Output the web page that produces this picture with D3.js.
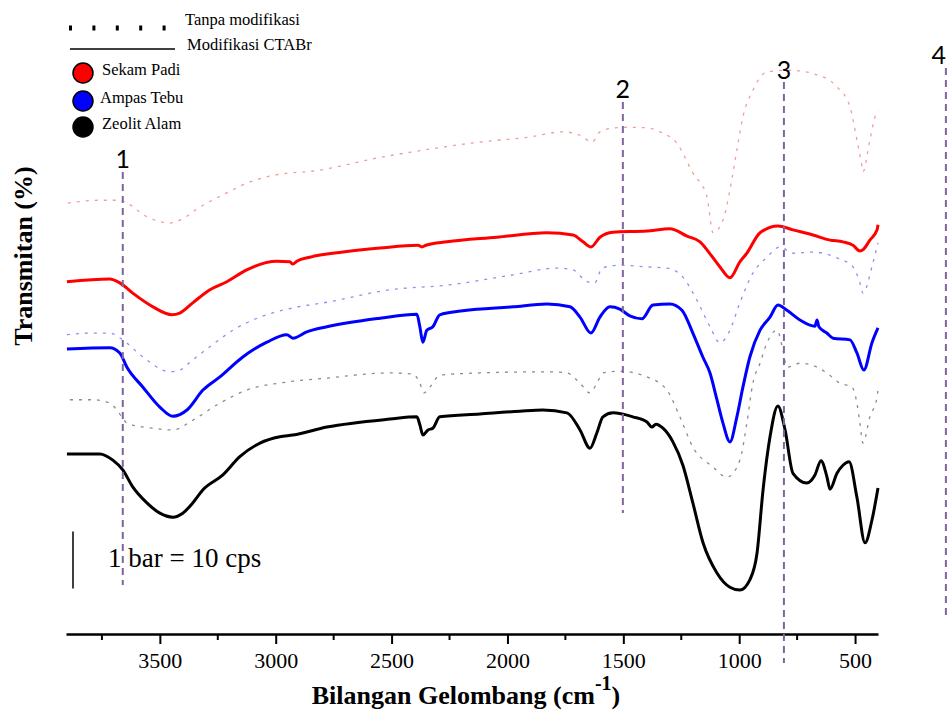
<!DOCTYPE html>
<html>
<head>
<meta charset="utf-8">
<script src="https://cdn.jsdelivr.net/npm/d3@7"></script>
<style>
  body { margin: 0; background: #fff; }
  svg { display: block; }
  .serif { font-family: "Liberation Serif", "Times New Roman", serif; }
</style>
</head>
<body>
<svg id="chart" width="947" height="713"></svg>
<script>
// Spectra data: [wavenumber (cm-1), transmittance (cps)]
var sekamTanpa = [[3897,75.6],[3759,76.1],[3673,76.1],[3642,75.6],[3556,73.2],[3457,72.1],[3414,72.6],[3327,74.9],[3211,77.4],[3125,79.1],[3038,80.2],[2939,80.9],[2866,81.1],[2538,83.7],[2408,84.6],[2119,86.3],[1903,87.2],[1761,88.1],[1687,87.5],[1635,86.3],[1601,88.1],[1536,88.8],[1484,88.9],[1398,88.8],[1342,88.1],[1269,86.1],[1200,80.9],[1139,76.7],[1113,70.4],[1070,72.6],[1040,77.9],[1010,84.9],[984,90.7],[941,95.4],[880,98.6],[781,98.9],[664,98.1],[578,96.0],[522,92.5],[492,86.7],[470,82.0],[466,81.1],[436,86.7],[414,90.7],[401,91.9]];

var sekamModif = [[3901,61.8],[3716,62.3],[3673,61.6],[3617,59.8],[3530,57.4],[3448,56.0],[3414,56.3],[3358,58.1],[3284,60.4],[3211,61.8],[3125,63.9],[2995,65.4],[2939,65.3],[2926,64.9],[2909,65.4],[2853,66.1],[2710,67.0],[2550,67.7],[2386,68.2],[2369,67.9],[2352,68.2],[2261,68.8],[2046,69.6],[1830,70.4],[1717,70.0],[1674,68.8],[1640,67.9],[1601,69.6],[1545,70.5],[1398,70.7],[1299,71.1],[1225,69.8],[1169,68.8],[1126,66.7],[1083,64.4],[1040,62.5],[997,65.3],[967,66.8],[910,70.4],[833,71.6],[768,70.9],[682,70.0],[608,69.1],[552,68.8],[509,68.2],[479,67.2],[466,67.4],[436,69.1],[405,70.9],[401,71.8]];

var ampasTanpa = [[3901,52.5],[3789,52.8],[3716,52.8],[3660,51.6],[3573,48.6],[3457,46.0],[3414,46.3],[3358,48.1],[3284,50.4],[3185,53.3],[3068,55.6],[2926,57.2],[2779,58.2],[2507,60.4],[2261,61.2],[1976,63.0],[1787,64.2],[1717,63.9],[1657,61.8],[1623,61.6],[1592,64.2],[1515,64.7],[1398,64.4],[1312,64.2],[1243,62.6],[1183,58.6],[1126,53.9],[1083,51.1],[1040,53.3],[997,58.1],[941,63.3],[880,66.1],[824,67.9],[768,66.8],[682,67.0],[578,66.0],[509,64.4],[479,61.6],[466,59.8],[423,65.1],[401,68.6]];

var ampasModif = [[3901,50.0],[3716,50.2],[3673,49.3],[3642,46.8],[3573,43.3],[3500,39.8],[3444,38.2],[3383,39.3],[3314,42.8],[3241,45.1],[3142,48.6],[3038,51.2],[2952,52.5],[2926,51.9],[2866,53.0],[2779,53.9],[2550,55.4],[2391,56.1],[2378,53.9],[2365,51.2],[2348,53.3],[2322,53.9],[2292,56.0],[2192,56.7],[1976,57.4],[1830,57.9],[1730,57.4],[1687,55.6],[1640,52.8],[1601,55.6],[1558,57.4],[1515,57.0],[1472,55.8],[1420,55.3],[1372,57.7],[1299,57.9],[1247,56.8],[1200,52.8],[1157,48.6],[1126,45.8],[1096,41.1],[1070,37.0],[1040,33.7],[1010,38.1],[984,43.3],[954,48.6],[910,53.3],[867,55.6],[833,57.7],[794,56.8],[738,55.1],[673,54.0],[664,55.1],[656,53.9],[622,52.8],[595,51.9],[522,51.6],[492,49.3],[462,46.3],[427,51.1],[401,53.7]];

var zeolitTanpa = [[3888,41.1],[3789,41.1],[3716,40.5],[3664,38.1],[3642,37.0],[3530,36.1],[3444,35.8],[3358,37.5],[3241,40.5],[3125,42.8],[2952,44.2],[2779,44.9],[2507,45.8],[2408,45.6],[2378,44.0],[2361,42.3],[2335,43.3],[2292,45.4],[2119,45.8],[1830,46.0],[1743,45.8],[1687,44.0],[1644,42.3],[1614,44.0],[1588,45.8],[1515,46.1],[1398,45.1],[1312,42.8],[1256,38.1],[1200,32.8],[1113,29.3],[1053,27.5],[997,30.5],[967,37.0],[941,44.0],[910,47.5],[880,51.1],[837,53.3],[811,49.8],[794,46.8],[738,47.5],[664,46.8],[622,45.8],[565,44.0],[513,43.3],[492,40.5],[479,37.0],[466,33.5],[436,38.1],[405,41.6],[401,42.8]];

var zeolitModif = [[3901,31.6],[3759,31.6],[3703,30.5],[3660,28.8],[3617,25.8],[3556,23.0],[3500,21.2],[3444,20.5],[3401,21.2],[3358,23.0],[3314,25.3],[3228,27.9],[3155,31.1],[3068,33.5],[2982,34.6],[2926,34.9],[2779,36.3],[2507,37.7],[2391,38.1],[2378,36.7],[2365,34.9],[2343,35.8],[2322,36.1],[2292,38.1],[2119,38.6],[1946,39.1],[1847,39.3],[1743,38.8],[1687,35.8],[1644,32.6],[1614,35.3],[1588,38.1],[1545,38.8],[1459,38.1],[1398,37.2],[1377,36.3],[1359,36.8],[1329,36.1],[1286,33.7],[1243,29.6],[1200,23.0],[1156,16.0],[1096,10.7],[1040,8.2],[997,7.7],[954,9.5],[923,14.2],[897,25.3],[867,34.6],[833,40.0],[802,35.8],[768,28.2],[708,26.5],[673,27.9],[647,30.4],[621,27.5],[608,25.4],[578,28.2],[552,29.6],[526,30.2],[492,24.0],[457,16.0],[427,20.0],[401,25.6]];

// Legend + labels
var seriesNames = ["Sekam Padi", "Ampas Tebu", "Zeolit Alam"];
var lineTypes = ["Tanpa modifikasi", "Modifikasi CTABr"];
var majorTicks = [3500, 3000, 2500, 2000, 1500, 1000, 500];
var minorTicks = [3750, 3250, 2750, 2250, 1750, 1250, 750];
var markerLabels = ["1", "2", "3", "4"];
var markerWn = [3660, 1502, 807, 108];
var scaleBarCps = 10;


var svg = d3.select("#chart");

var x = d3.scaleLinear().domain([3905, 401]).range([66, 878]);
var y = d3.scaleLinear().domain([0, 100]).range([634, 64]);

var line = d3.line()
  .x(function (d) { return x(d[0]); })
  .y(function (d) { return y(d[1]); })
  .curve(d3.curveMonotoneX);

// dotted (unmodified) spectra
var dotted = [
  { data: sekamTanpa, color: "#f59a9a" },
  { data: ampasTanpa, color: "#8f8ff2" },
  { data: zeolitTanpa, color: "#8c8c8c" }
];
dotted.forEach(function (s) {
  svg.append("path")
    .attr("d", line(s.data))
    .attr("fill", "none")
    .attr("stroke", s.color)
    .attr("stroke-width", 1.3)
    .attr("stroke-dasharray", "3,6");
});

// solid (CTABr) spectra
var solid = [
  { data: sekamModif, color: "#ff0000" },
  { data: ampasModif, color: "#0000ff" },
  { data: zeolitModif, color: "#000000" }
];
solid.forEach(function (s) {
  svg.append("path")
    .attr("d", line(s.data))
    .attr("fill", "none")
    .attr("stroke", s.color)
    .attr("stroke-width", 3)
    .attr("stroke-linejoin", "round");
});

// x axis
var axis = svg.append("g")
  .attr("transform", "translate(0,634)")
  .call(d3.axisBottom(x).tickValues(majorTicks).tickFormat(d3.format("d"))
    .tickSize(10).tickSizeOuter(0).tickPadding(8));
axis.select(".domain").attr("stroke-width", 2.5);
axis.selectAll(".tick line").attr("stroke-width", 2);
axis.selectAll(".tick text")
  .attr("class", "serif")
  .style("font-size", "22px")
  .attr("fill", "#000");

svg.append("g")
  .attr("transform", "translate(0,634)")
  .selectAll("line")
  .data(minorTicks).enter()
  .append("line")
  .attr("x1", function (d) { return x(d); })
  .attr("x2", function (d) { return x(d); })
  .attr("y1", 0).attr("y2", 6)
  .attr("stroke", "#000").attr("stroke-width", 2);

// axis titles
var xt = svg.append("text")
  .attr("class", "serif")
  .attr("x", 466).attr("y", 704)
  .attr("text-anchor", "middle")
  .style("font-size", "26px").style("font-weight", "bold");
xt.append("tspan").text("Bilangan Gelombang (cm");
xt.append("tspan").attr("dy", -14).style("font-size", "20px").text("-1");
xt.append("tspan").attr("dy", 14).text(")");

svg.append("text")
  .attr("class", "serif")
  .attr("transform", "translate(32,256) rotate(-90)")
  .attr("text-anchor", "middle")
  .style("font-size", "26px").style("font-weight", "bold")
  .text("Transmitan (%)");

// numbered dashed markers
var markerTop = [172, 102, 82, 68];
var markerBottom = [585, 513, 663, 618];
var markerTextY = [168, 98, 79, 64];
markerWn.forEach(function (wn, i) {
  svg.append("line")
    .attr("x1", x(wn)).attr("x2", x(wn))
    .attr("y1", markerTop[i]).attr("y2", markerBottom[i])
    .attr("stroke", "#8064a2")
    .attr("stroke-width", 2)
    .attr("stroke-dasharray", "7,5");
  // last label sits at the right edge, keep it inside
  var last = i === markerWn.length - 1;
  svg.append("text")
    .attr("x", last ? 946 : x(wn)).attr("y", markerTextY[i])
    .attr("text-anchor", last ? "end" : "middle")
    .style("font-family", "Lato, 'Open Sans', sans-serif")
    .style("font-size", "25px")
    .text(markerLabels[i]);
});

// scale bar
svg.append("line")
  .attr("x1", 73).attr("x2", 73)
  .attr("y1", y(8)).attr("y2", y(8 + scaleBarCps))
  .attr("stroke", "#000").attr("stroke-width", 1.5);
svg.append("text")
  .attr("class", "serif")
  .attr("x", 108).attr("y", 567)
  .style("font-size", "27px")
  .text("1 bar = " + scaleBarCps + " cps");

// legend
svg.append("line")
  .attr("x1", 69).attr("x2", 170).attr("y1", 28).attr("y2", 28)
  .attr("stroke", "#000").attr("stroke-width", 5)
  .attr("stroke-dasharray", "3,20.4");
svg.append("line")
  .attr("x1", 70).attr("x2", 175).attr("y1", 49).attr("y2", 49)
  .attr("stroke", "#000").attr("stroke-width", 1.5);
svg.append("text").attr("class", "serif")
  .attr("x", 185).attr("y", 25).style("font-size", "16.5px").text(lineTypes[0]);
svg.append("text").attr("class", "serif")
  .attr("x", 187).attr("y", 50).style("font-size", "16.5px").text(lineTypes[1]);

var legendColors = ["#ff0000", "#0000ff", "#000000"];
var legendY = [73, 101, 127];
var legendTextX = [102, 100, 102];
seriesNames.forEach(function (name, i) {
  svg.append("circle")
    .attr("cx", 83).attr("cy", legendY[i]).attr("r", 10)
    .attr("fill", legendColors[i])
    .attr("stroke", "#000").attr("stroke-width", 1.5);
  svg.append("text").attr("class", "serif")
    .attr("x", legendTextX[i]).attr("y", legendY[i] + 2)
    .style("font-size", "16.5px")
    .text(name);
});
</script>
</body>
</html>
